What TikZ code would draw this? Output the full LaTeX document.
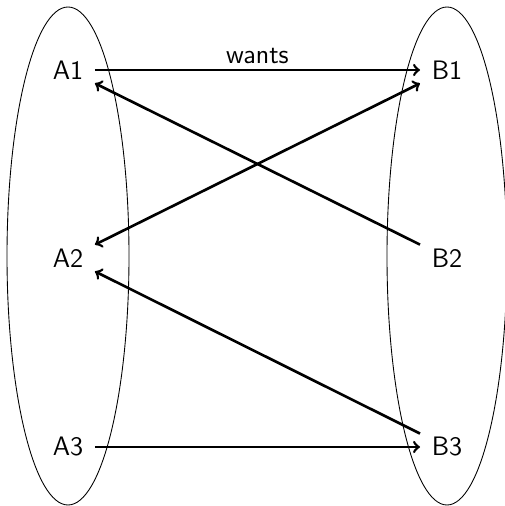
\documentclass[tikz,border=0pt]{standalone}
\usepackage{tikz}
\usetikzlibrary{positioning}
\begin{document}
\begin{tikzpicture}[
    every node/.style={font=\sffamily\fontsize{15.2}{18}\selectfont, inner sep=6.5pt},
    link/.style={line width=1.5pt},
    set/.style={line width=0.5pt}]
        \useasboundingbox (0,0) rectangle (10.1,10.12);
        % the two sets
        \draw[set] (1.36,5.0) ellipse (1.22 and 4.98);
        \draw[set] (8.94,5.0) ellipse (1.2 and 4.98);
        % elements
        \foreach \i/\y in {1/8.72, 2/4.96, 3/1.18} {
          \node (a\i) at (1.36,\y) {A\i};
          \node (b\i) at (8.94,\y) {B\i};
        }
        % preferences
        \draw[link, ->] (a1) -- (b1) node[midway, above, inner sep=3pt] {wants};
        \draw[link, ->] (b2) -- (a1);
        \draw[link, <->] (a2) -- (b1);
        \draw[link, ->] (b3) -- (a2);
        \draw[link, ->] (a3) -- (b3);
      \end{tikzpicture}
\end{document}
